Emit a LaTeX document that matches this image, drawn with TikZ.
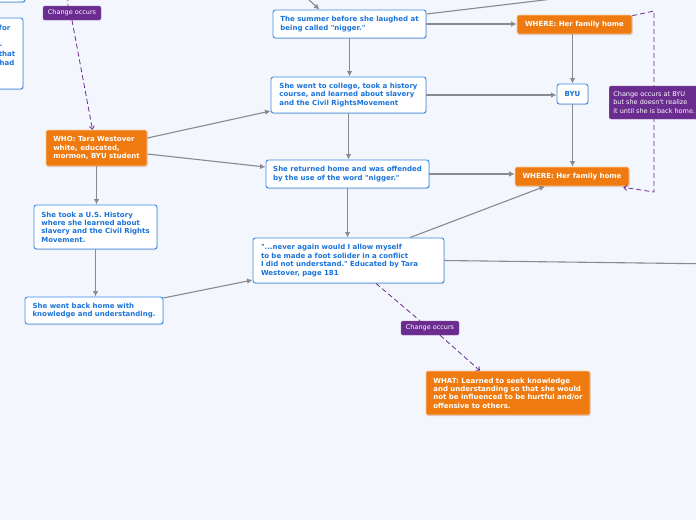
\documentclass[tikz,border=0pt]{standalone}
\usepackage{fontspec}
\setmainfont{DejaVu Sans}
\newfontfamily\diagfont{DejaVu Sans}
\usetikzlibrary{arrows.meta,shadows}
\definecolor{bg}{HTML}{F3F6FD}
\definecolor{bluetxt}{HTML}{1A73D9}
\definecolor{blueline}{HTML}{3A8DE6}
\definecolor{orng}{HTML}{EF7B10}
\definecolor{purp}{HTML}{6B2C8F}
\definecolor{conn}{HTML}{8A8A8E}
\tikzset{
  boxfont/.style={font=\diagfont\fontsize{7.0}{8.4}\selectfont\bfseries},
  tagfont/.style={font=\diagfont\fontsize{6.5}{8.3}\selectfont},
  shad/.style={drop shadow={shadow xshift=0.6pt,shadow yshift=-1pt,fill=black,opacity=0.15}},
  bluebox/.style={boxfont,draw=blueline,line width=0.9pt,fill=white,rounded corners=2.5pt,
    text=bluetxt,align=left,inner sep=0pt,shad},
  orangebox/.style={boxfont,draw=orng!40!white,line width=0.6pt,fill=orng,rounded corners=2pt,
    text=white,align=left,inner sep=0pt,shad},
  tagbox/.style={tagfont,fill=purp,draw=purp!80!white,line width=0.4pt,rounded corners=1.5pt,text=white,
    align=left,inner sep=0pt},
  sz/.style 2 args={minimum width=#1,minimum height=#2},
  conline/.style={draw=conn,line width=1.1pt,-{Latex[length=5.5pt,width=5.5pt]}},
  plainline/.style={draw=conn,line width=1.1pt},
  changeline/.style={draw=purp,line width=0.8pt,dash pattern=on 5pt off 3pt},
  changearrow/.style={changeline,-{Straight Barb[length=3pt,width=5pt]}},
  cuttext/.style={boxfont,text=bluetxt,inner sep=0pt},
}
\begin{document}
\begin{tikzpicture}[x=1pt,y=-1pt]
\useasboundingbox (0,0) rectangle (696,520);
\fill[bg] (0,0) rectangle (696,520);
\clip (0,0) rectangle (696,520);

% off-screen ends
\coordinate (topin) at (296,-12);
\coordinate (topright) at (620,-9);
\coordinate (rightout) at (720,264);
\coordinate (tagtop) at (67,-12);
\coordinate (b1) at (654,11);
\coordinate (b2) at (654,192);

% partial boxes on the left edge
\node[bluebox,sz={100pt}{40pt}] (tl) at (-25,-18) {};
\node[bluebox,sz={123pt}{71pt}] (lb) at (-38.5,53.5) {};
\node[cuttext,anchor=east] (lt1) at (10.5,28) {for};
\node[cuttext,anchor=east] (lt2) at (2.5,45.5) {.};
\node[cuttext,anchor=east] (lt3) at (15.5,54) {that};
\node[cuttext,anchor=east] (lt4) at (14.5,62.5) {had};

% main nodes
\node[bluebox,sz={153pt}{28pt}] (summer) at (349.5,24)
  {The summer before she laughed at\\being called "nigger."};
\node[orangebox,sz={115pt}{19pt},align=center] (where1) at (574.5,24.5) {WHERE: Her family home};
\node[bluebox,sz={155pt}{36pt}] (college) at (348.5,95)
  {She went to college, took a history\\course, and learned about slavery\\and the Civil RightsMovement};
\node[bluebox,sz={31pt}{20pt},align=center] (byu) at (572.5,94) {BYU};
\node[orangebox,sz={114pt}{19pt},align=center] (where2) at (572,176.5) {WHERE: Her family home};
\node[bluebox,sz={163pt}{28pt}] (returned) at (347.5,174)
  {She returned home and was offended\\by the use of the word "nigger."};
\node[orangebox,sz={101pt}{36pt}] (who) at (96.5,148)
  {WHO: Tara Westover\\white, educated,\\mormon, BYU student};
\node[bluebox,sz={123pt}{44pt}] (took) at (95.5,227)
  {She took a U.S. History\\where she learned about\\slavery and the Civil Rights\\Movement.};
\node[bluebox,sz={138pt}{27pt}] (back) at (94,310.5)
  {She went back home with\\knowledge and understanding.};
\node[bluebox,sz={191pt}{45pt},text width=175pt] (quote) at (348.5,260.5)
  {"...never again would I allow myself\\to be made a foot solider in a conflict\\I did not understand." Educated by Tara\\Westover, page 181};
\node[orangebox,sz={164pt}{44pt}] (what) at (508,393)
  {WHAT: Learned to seek knowledge\\and understanding so that she would\\not be influenced to be hurtful and/or\\offensive to others.};
\node[tagbox,sz={58pt}{14pt},align=center] (tag1) at (72,13) {Change occurs};
\node[tagbox,sz={58pt}{14pt},align=center] (tag2) at (430,328) {Change occurs};

% connectors
\draw[conline] (topin) -- ([xshift=-30pt]summer.north);
\draw[plainline] ([yshift=10pt]summer.east) -- (topright);
\draw[conline] (summer.east) -- (summer.east -| where1.west);
\draw[conline] (summer.south) -- (summer.south |- college.north);
\draw[conline] (college.east) -- (college.east -| byu.west);
\draw[conline] (byu.north |- where1.south) -- (byu.north);
\draw[conline] (byu.south) -- (byu.south |- where2.north);
\draw[conline] (college.south) -- (college.south |- returned.north);
\draw[conline] (returned.east) -- (returned.east -| where2.west);
\draw[conline] ([yshift=10pt]who.east) -- ([yshift=-16pt]college.west);
\draw[conline] ([yshift=-6pt]who.east) -- ([yshift=7pt]returned.west);
\draw[conline] (who.south) -- (who.south |- took.north);
\draw[conline] (took.south) -- (took.south |- back.north);
\draw[conline] ([yshift=12.5pt]back.east) -- ([yshift=-19.5pt]quote.west);
\draw[conline] (returned.south) -- (returned.south |- quote.north);
\draw[conline] ([xshift=61.5pt]quote.north) -- ([xshift=-27pt]where2.south);
\draw[plainline] (quote.east) -- (rightout);

% change lines
\draw[changeline] (tagtop) -- ([xshift=-4pt]tag1.north);
\draw[changearrow] (tag1.south) -- ([xshift=-4pt]who.north);
\draw[changeline] ([xshift=27.5pt]quote.south) -- ([xshift=-10pt]tag2.north);
\draw[changearrow] ([xshift=10pt]tag2.south) -- ([xshift=-28pt]what.north);
\draw[changearrow] ([yshift=-1pt]where1.north east) -- (b1) -- (b2) -- ([xshift=-6pt,yshift=-1pt]where2.south east);
\node[tagbox,sz={90pt}{33pt},anchor=west,inner xsep=4pt] (note) at (609,102.5)
  {Change occurs at BYU\\but she doesn't realize\\it until she is back home.};
\end{tikzpicture}
\end{document}
